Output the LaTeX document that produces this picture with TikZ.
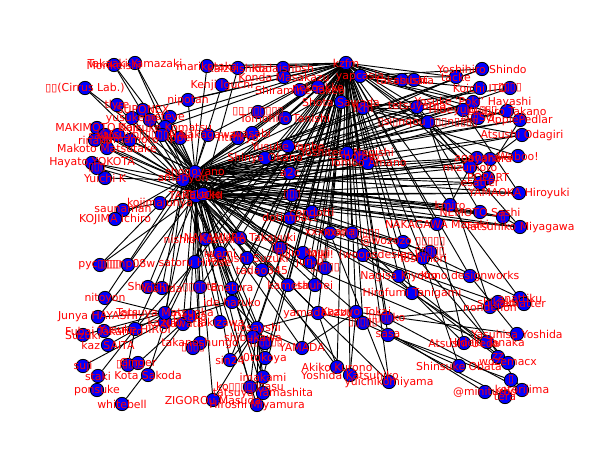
\documentclass[tikz,border=0pt]{standalone}
\usepackage{fontspec}
\setmainfont{DejaVu Sans}
\usepackage{tikz}
\pgfdeclarelayer{edges}
\pgfsetlayers{edges,main}

\tikzset{
  person/.style={circle, draw=black, fill=blue, line width=0.7pt, minimum size=0.4cm, inner sep=0pt},
  lbl/.style={text=red, font=\fontsize{9.3}{10}\selectfont, inner sep=0pt},
  link/.style={line width=0.8pt}
}

% name / x / y / label  (pixel coordinates, y downwards)
\def\people{%
mori/114/65/Morikeishi, yamazaki/135/63/{Takaaki Yamazaki}, mariko/207/66/marikotaka,
kaizu/238/68/kaizuishida, ishbsh/283/68/Kodaishbsh, konda/284/77/{Konda Masakazu},
kzfm/346/63/kzfm, yapc/360/76/yapcasia, takasu/402/80/takasushi, shibata/414/80/shibata,
tacke/456/77/tacke, shindo/482/69/{Yoshihiro Shindo}, ito/480/88/{Koichi ITO}, boxa/510/88/▯▯▯▯,
poki/473/102/{Yosuke 'Poki' Hayashi}, hide/463/110/{Hideyuki ▯▯▯}, takano/507/111/{Akihiro Takano},
apple/520/120/ApplePedlar, nqou/428/122/{▯si▯nqou ▯▯▯n▯▯▯▯}, sso/478/118/▯▯▯SO,
odagiri/522/135/{Atsushi Odagiri}, waboo/518/156/Waboo!, agahara/477/158/agahara,
ayahara/490/159/ayahara, mizumoto/470/167/mizumoto, popart/488/178/POPART, esatter/480/183/esatter,
yamaoka/519/193/{YAMAOKA Hiroyuki}, kmiro/450/205/kmiro, nemoto/480/212/{NEMOTO Sashi},
boxb/503/217/▯, miyagawa/520/227/{Tatsuhiko Miyagawa}, nakagawa/437/224/{NAKAGAWA Masaki},
wozozo/403/242/{@wozozo ▯▯▯▯▯}, itok/430/252/▯▯▯▯▯, toshi/423/258/Toshinori,
ono/470/276/{Kono designworks}, kiyono/399/276/{Nagisa Kiyono}, tanigami/412/293/{Hirofumi Tanigami},
nondel/490/307/nondelion, shikaku/498/302/shikaku, anattiku/520/298/anattiku, amatter/524/304/amatter,
yoshida/517/334/{Yasuhisa Yoshida}, ueda/464/343/{Atsushi Ueda}, tanaka/487/342/{Hideki Tanaka},
zz/498/357/zz, wozem/508/363/wozemacx, obata/459/366/{Shinsuke Obata}, boxc/511/380/▯,
miniturbo/485/392/@miniturbo, kojima/522/390/kotorijima, tera/505/397/tera,
komiyama/389/382/yuichikomiyama, kurono/337/367/{Akiko Kurono}, katsu/350/375/{Yoshida Katsuhiko},
yamada/318/313/yamadakazu, tokai/356/312/{Kazuyo Tokai}, boxd/363/323/▯▯▯▯▯, boxko/387/318/▯▯▯▯ko,
sasa/388/335/sasa, haruko/232/302/{ide haruko}, hosay/257/328/hosayshi, shibu/253/337/shibukawa,
boxe/265/343/▯▯▯▯▯▯, ymd/302/348/YAMADA, sin/230/360/sin24, tokoya/265/358/0tokoya,
imakami/263/377/imakami, okamasu/250/387/ko▯▯▯▯▯▯asu, yamashita/263/393/{tatsuya Yamashita},
miyamura/257/405/{Hiroshi Miyamura}, zigoro/213/400/{ZIGOROu Masuda}, nitoyon/105/298/nitoyon,
junya/98/317/{Junya HAYASHI}, suzuki/83/335/Suzuki, takahiro/104/331/{Fubai Takahiro},
saita/108/345/{kaz SAITA}, suji/83/366/suji, staki/98/376/staki, ponsuke/97/390/ponsuke,
whitebell/122/404/whitebell, sakoda/148/375/{Kota Sakoda}, boxf/128/365/▯▯▯▯, ginger/138/363/Ginger,
hiroi/135/329/{Yusuke HIROI}, kazuki/165/322/kazuki, nawata/183/324/Nawata,
matsuoka/165/313/{Tatsuya Matsuoka}, osaka/190/316/Osaka, shungo/200/343/takanoshungo,
boxg/193/348/▯▯▯▯, takizawa/220/322/Takizawa, yuichik/105/178/{Yuichi K}, amapyon/183/180/amapyon,
shogo/195/172/shogoyano, takeuchi/196/196/TAKEUCHI, takako/203/194/Takako,
kojimaj/160/203/kojimajunya, sauna/123/210/saunaman, kojimai/115/219/{KOJIMA Ichiro},
nishio/205/239/{nishio Kazuhiro}, nakamura/240/238/{NAKAMURA Takayuki}, satoru/195/262/{satoru Hirose},
iwami/220/253/iwami, tsuzuki/247/258/{Tatsushi Suzuki}, tada/262/270/tadao345, boxh/280/248/▯▯▯,
fujio/303/253/{Fujio Kouji}, jun/310/262/jun-0, miki/363/255/{Miki! (woopsdesign)},
boxi/325/268/▯▯▯▯▯, kameta/288/285/kameta, shuhei/315/285/shuhei, shi/148/287/Shi▯▯▯▯,
yoshidaa/162/288/Yoshida, koshiba/200/287/▯▯▯▯ta, enatura/232/288/Enatura, pyc/100/265/pyc▯▯▯▯,
np08w/128/265/▯▯▯np08w, cirrus/85/88/{▯▯(Cirrus Lab.)}, tlyre/117/105/tlyre, supo/143/110/SUPONEX,
yusukebe/132/118/yusukebe, boxj/150/120/▯▯, steve/170/117/steve, makimoto/97/128/{MAKIMOTO Koji},
komatsu/165/127/{Daisuke Komatsu}, saitou/105/135/saitou, katsuyo/118/135/katsuyo,
tanakan/162/135/▯▯▯▯▯NA, ippei/180/138/Ippei, nakagawak/208/135/Nakagawa, rinako/95/140/rinako,
yamamoto/130/140/Yamamoto, makoto/107/148/{Makoto Matsutake}, hayato/92/163/{Hayato YOKOTA},
boxk/97/168/▯▯▯, htmkyo/238/138/htmkyo, kenji/222/85/{Kenji Iguchi}, nipotan/188/100/nipotan,
boxl/258/112/{▯▯ ▯▯▯▯▯▯}, tomohiro/285/118/{Tomohiro Tanishi}, shiramine/300/90/{Shiramine Takeo},
nekoake/318/87/nekoakke, sawada/341/102/{Shota Sawada}, fkm/363/108/fkm, tetsu/417/107/tetsuyama,
yanbe/288/146/{Yusuke Yanbe}, okano/265/158/{Shinya Okano}, negishi/347/153/{Yoshiteru Negishi},
moroto/360/157/moroto, amano/368/163/{Tomoo Amano}, a2c/290/173/a2c, wasabi/252/133/wasabi,
boxm/292/195/▯▯▯, condotti/312/212/condotti, dotimpact/290/218/dotimpact, xxx/330/233/xxxmana,
xxb/352/233/{xxx/ ▯▯▯▯▯}}

\def\links{%
shogo/mori, shogo/yamazaki, shogo/cirrus, amapyon/tlyre, shogo/supo, takeuchi/yusukebe, shogo/steve,
shogo/boxj, amapyon/makimoto, shogo/komatsu, amapyon/saitou, shogo/katsuyo, takeuchi/tanakan,
shogo/ippei, shogo/nakagawak, amapyon/rinako, shogo/yamamoto, amapyon/makoto, amapyon/hayato,
takeuchi/boxk, amapyon/yuichik, takeuchi/kojimaj, takeuchi/sauna, amapyon/kojimai, takeuchi/pyc,
shogo/np08w, shogo/mariko, takako/kaizu, shogo/kenji, shogo/nipotan, shogo/htmkyo, shogo/wasabi,
takeuchi/cirrus, takeuchi/yamazaki, amapyon/mori, takako/supo, takako/komatsu, takeuchi/makoto,
takako/hayato, amapyon/pyc,
shogo/kzfm, amapyon/kzfm, takeuchi/kzfm, takako/kzfm, shogo/yapc, shogo/shindo, takako/tacke,
shogo/ito, takeuchi/boxa, shogo/poki, amapyon/hide, takako/takano, shogo/apple, takeuchi/nqou,
shogo/sso, amapyon/odagiri, takako/waboo, shogo/agahara, takeuchi/ayahara, shogo/mizumoto,
amapyon/popart, shogo/esatter, takako/yamaoka, takeuchi/kmiro, shogo/nemoto, amapyon/boxb,
takako/miyagawa, takeuchi/nakagawa, shogo/wozozo, amapyon/itok, takako/toshi, takeuchi/ono,
shogo/tanigami, amapyon/kiyono, takako/miki, shogo/sawada, amapyon/fkm, takeuchi/tetsu,
shogo/negishi, takako/amano, shogo/moroto, amapyon/yanbe, takeuchi/okano, shogo/a2c, takako/boxm,
shogo/condotti, amapyon/dotimpact, takeuchi/xxx, shogo/xxb, takako/fujio, amapyon/boxh,
shogo/tsuzuki, takeuchi/tada, amapyon/shindo, takeuchi/poki, amapyon/apple, takako/odagiri,
takeuchi/yamaoka, amapyon/nakagawa, takeuchi/miyagawa, shogo/tetsu,
amapyon/takano, takako/ito, amapyon/waboo, takeuchi/agahara, takako/mizumoto, takeuchi/esatter,
shogo/yamaoka, amapyon/kmiro, takako/nemoto, shogo/boxb, amapyon/miyagawa, takako/wozozo,
shogo/nishio, amapyon/nakamura, takeuchi/satoru, shogo/iwami, takako/jun, amapyon/boxi,
takeuchi/kameta, shogo/shuhei, takeuchi/haruko, amapyon/hosay, shogo/shibu, takako/boxe,
takeuchi/ymd, shogo/sin, amapyon/tokoya, takeuchi/imakami, shogo/okamasu, takako/yamashita,
amapyon/miyamura, takeuchi/zigoro, shogo/shi, amapyon/yoshidaa, takeuchi/koshiba, shogo/enatura,
takeuchi/junya, amapyon/nitoyon, shogo/matsuoka, takeuchi/osaka, amapyon/kazuki, shogo/nawata,
takeuchi/hiroi, shogo/shungo, amapyon/takizawa, takako/yamada, shogo/tokai, takeuchi/katsu,
shogo/kurono, amapyon/komiyama,
kzfm/mariko, kzfm/kaizu, kzfm/ishbsh, kzfm/konda, kzfm/yapc, kzfm/takasu, kzfm/shibata,
kzfm/sawada, kzfm/fkm, kzfm/nekoake, kzfm/shiramine, kzfm/tomohiro, kzfm/boxl, kzfm/negishi,
kzfm/amano, kzfm/moroto, kzfm/yanbe, kzfm/okano, kzfm/a2c, kzfm/wasabi, kzfm/htmkyo,
kzfm/nakagawak, kzfm/komatsu, kzfm/kenji, kzfm/nipotan, kzfm/steve, kzfm/supo,
kzfm/condotti, kzfm/dotimpact, kzfm/xxx, kzfm/xxb, kzfm/miki, kzfm/fujio, kzfm/jun, kzfm/boxi,
kzfm/kameta, kzfm/shuhei, kzfm/yamada, kzfm/tokai, kzfm/boxd, kzfm/boxko, kzfm/sasa, kzfm/hosay,
kzfm/shibu, kzfm/ymd, kzfm/tokoya, kzfm/sin, kzfm/imakami, kzfm/haruko, kzfm/nishio,
kzfm/nakamura, kzfm/satoru, kzfm/iwami, kzfm/tsuzuki, kzfm/tada, kzfm/boxh, kzfm/enatura,
kzfm/koshiba, kzfm/katsu, kzfm/kurono, kzfm/komiyama, kzfm/wozozo, kzfm/itok, kzfm/toshi,
kzfm/tanigami, kzfm/kiyono, kzfm/nakagawa, kzfm/kmiro, kzfm/mizumoto, kzfm/tetsu, kzfm/hide,
kzfm/poki, kzfm/tacke, kzfm/nqou, kzfm/ono,
yapc/takasu, yapc/shibata, yapc/tacke, yapc/shindo, yapc/ito, yapc/poki, sawada/tetsu, sawada/nqou,
fkm/hide, fkm/boxa, yapc/apple, sawada/odagiri, fkm/waboo, yapc/agahara,
tetsu/popart, nqou/esatter, hide/yamaoka, tetsu/nemoto, nqou/miyagawa, mizumoto/kmiro,
nemoto/boxb, boxb/miyagawa, odagiri/ayahara, waboo/agahara, apple/esatter,
miki/nondel, miki/shikaku, wozozo/anattiku, boxko/amatter, tokai/yoshida, xxb/ueda, nakamura/tanaka,
miki/zz, wozozo/wozem, boxd/obata, sasa/boxc, tokai/miniturbo, boxko/kojima, sasa/tera,
nakagawa/ueda, kiyono/wozem, toshi/obata, itok/kojima, tanigami/tanaka, ono/yoshida, nqou/nondel,
kmiro/amatter, xxx/komiyama,
hosay/haruko, hosay/shibu, hosay/boxe, hosay/ymd, hosay/sin, hosay/tokoya, hosay/imakami,
hosay/okamasu, hosay/yamashita, hosay/miyamura, hosay/zigoro, imakami/okamasu, imakami/yamashita,
haruko/osaka, haruko/matsuoka, matsuoka/junya, matsuoka/suzuki, osaka/takahiro, matsuoka/saita,
kazuki/suji, hiroi/staki, staki/ponsuke, nawata/whitebell, kazuki/sakoda, hiroi/boxf, osaka/ginger,
matsuoka/nitoyon, shungo/boxg, satoru/shungo, nishio/kazuki, satoru/hiroi, nishio/matsuoka,
yamada/hosay, tokai/ymd, yamada/kurono, katsu/tokai, yamada/boxd}

\begin{document}
\begin{tikzpicture}[x=0.03cm,y=-0.03cm]
\useasboundingbox (0,0) rectangle (607,462);
%Nodi
\foreach \who/\px/\py/\lab in \people
  \node[person] (\who) at (\px,\py) {};
%Archi
\begin{pgfonlayer}{edges}
\foreach \a/\b in \links
  \draw[link] (\a) -- (\b);
\end{pgfonlayer}
%Etichette
\foreach \who/\px/\py/\lab in \people
  \node[lbl] (\who-t) at (\who) {\lab};
\end{tikzpicture}
\end{document}
